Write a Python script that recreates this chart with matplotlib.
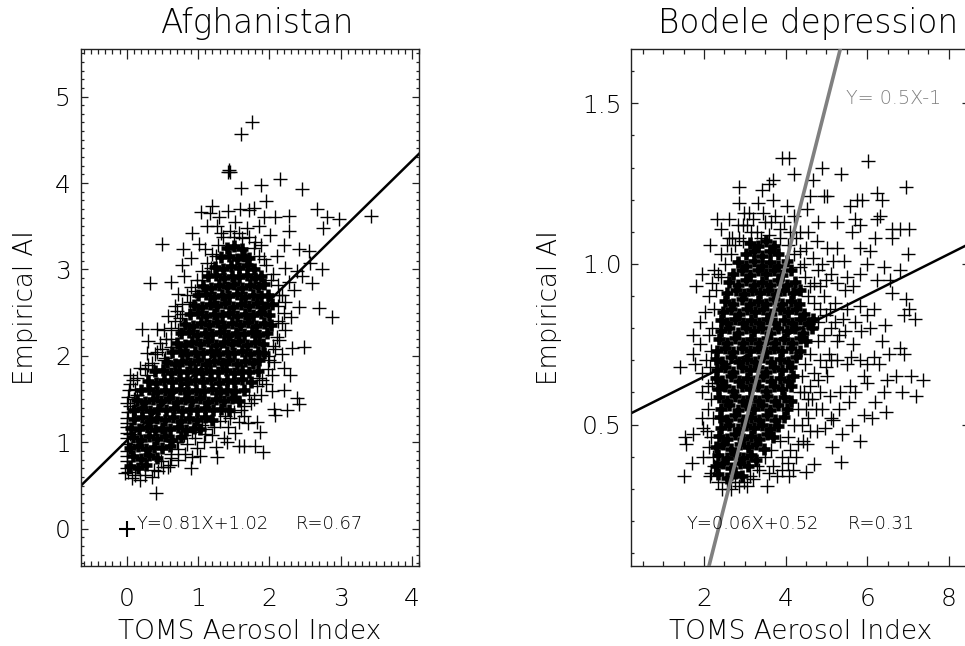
import matplotlib
matplotlib.use("Agg")
import matplotlib.pyplot as plt
from matplotlib.ticker import MultipleLocator, FixedLocator

FONT = dict(family="DejaVu Sans", weight=200)

# ---------- values ----------
afg_title = "Afghanistan"
bod_title = "Bodele depression"
x_label = "TOMS Aerosol Index"
y_label = "Empirical AI"

afg_fit = (0.81, 1.02)
bod_fit = (0.0636, 0.522)
bod_ref = (0.5, -1.0)
afg_text = ("Y=0.81X+1.02", "R=0.67")
bod_text = ("Y=0.06X+0.52", "R=0.31")
ref_text = "Y= 0.5X-1"

afg_origin = [(0.0, 0.0)]

afg_outer = [
 (1.76,4.70),(1.60,4.57),(1.42,4.13),(1.45,4.13),(1.44,4.15),(1.60,3.94),(1.88,3.98),(2.15,4.05),(2.45,3.93),
 (1.95,3.79),(2.67,3.70),(2.81,3.61),(2.98,3.58),(2.75,3.48),(3.43,3.62),(1.20,3.73),(1.04,3.66),(1.17,3.65),
 (1.29,3.61),(1.26,3.50),(1.59,3.70),(1.71,3.69),(1.78,3.71),(1.92,3.61),(2.08,3.61),(2.27,3.62),(2.28,3.45),
 (2.20,3.28),(2.01,3.40),(1.85,3.50),(0.50,3.30),(0.33,2.84),(0.79,3.24),(1.01,3.30),(1.10,3.24),(0.90,3.13),
 (0.77,3.05),(2.41,3.24),(2.55,3.21),(2.10,3.15),(2.57,3.07),(2.73,3.01),(2.45,2.92),(2.60,2.84),(2.34,2.76),
 (2.41,2.57),(2.70,2.55),(2.88,2.45),(2.31,2.09),(2.48,2.10),(2.06,1.93),(2.20,1.86),(2.29,1.78),(2.03,1.59),
 (2.20,1.60),(2.38,1.51),(2.41,1.44),(2.06,1.39),(2.25,1.37),(2.08,1.32),(1.82,1.24),(1.87,1.12),(1.65,1.31),
 (1.52,1.11),(1.57,0.96),(1.64,0.96),(1.80,0.96),(1.91,0.89),(1.40,1.01),(1.25,0.95),(1.26,0.83),(0.91,0.83),
 (0.90,0.70),(1.03,0.84),(0.58,0.72),(0.41,0.42),(0.21,2.31),(0.42,2.31),(0.30,2.17),(0.28,2.03),(0.47,2.15),
 (0.04,1.78),(0.09,1.72),(0.02,1.53),(0.00,1.28),(0.00,1.11),(0.00,0.84),(-0.02,0.64),(0.07,0.59),(0.19,0.57),
 (0.35,0.60),(0.51,0.72),(0.61,0.74),
 (0.62,2.85),(0.72,2.72),(0.80,2.93),(0.68,2.58),(0.58,2.46),(0.75,2.44),(0.52,2.30),(0.62,2.20),(0.40,2.02),
 (0.53,1.98),(0.30,1.90),(0.18,1.86),(0.12,1.62),(0.05,1.42),(0.92,3.42),(1.12,3.50),(1.32,3.42),(1.52,3.55),
 (1.68,3.48),(1.42,3.68),(1.88,3.28),(2.22,3.02),(2.28,2.85),(2.38,2.98),(2.22,2.62),(2.30,2.45),(2.22,2.30),
 (2.14,2.18),(2.18,2.02),(2.04,1.78),(1.95,1.68),(1.88,1.55),(1.74,1.45),(1.70,1.22),(1.58,1.24),(1.42,1.18),
 (1.20,1.08),(1.08,1.00),(0.98,0.94),(0.82,0.86),(0.72,0.80),(0.62,0.86),(1.36,1.05),(1.10,1.15),
]

afg_fringe = [
 (0.00,0.70),(0.01,0.78),(0.00,0.90),(0.02,0.98),(0.00,1.05),(0.01,1.18),(0.00,1.22),(0.02,1.35),(0.00,1.45),
 (0.03,1.60),(0.05,1.68),(0.10,1.50),(0.15,1.75),(0.25,1.85),(0.35,1.92),(0.42,2.05),(0.50,2.08),(0.55,2.20),
 (0.62,2.32),(0.68,2.40),(0.70,2.52),(0.78,2.60),(0.85,2.70),(0.90,2.80),(0.98,2.88),(1.05,2.98),(1.12,3.08),
 (1.20,3.18),(1.28,3.28),(1.35,3.38),(1.45,3.45),(1.58,3.42),(1.72,3.38),(1.78,3.25),(1.85,3.15),(1.95,3.05),
 (2.05,2.95),(2.12,2.82),(2.18,2.70),(2.20,2.50),(2.18,2.38),(2.10,2.22),(2.08,2.08),(2.00,1.95),(1.98,1.85),
 (1.90,1.72),(1.82,1.65),(1.72,1.55),(1.65,1.42),(1.50,1.35),(1.38,1.30),(1.22,1.18),(1.10,1.10),(0.95,1.05),
 (0.85,0.98),(0.72,0.92),(0.62,0.82),(0.48,0.78),(0.38,0.68),(0.25,0.62),(0.12,0.62),(0.02,0.66),(0.44,0.67),
 (0.70,1.00),(0.80,1.08),(0.92,1.12),(1.05,1.20),(1.30,1.25),(1.45,1.28),(1.60,1.38),(1.78,1.50),(1.85,1.75),
 (1.98,2.00),(2.05,2.12),(2.12,2.40),(2.12,2.58),(2.14,2.70),(2.02,2.88),(1.92,3.12),(1.80,3.32),(1.62,3.36),
 (1.50,3.38),(1.25,3.15),(1.18,3.02),(1.05,2.88),(0.95,2.75),(0.88,2.62),(0.78,2.48),(0.72,2.30),(0.62,2.10),
 (0.52,1.95),(0.38,1.85),(0.28,1.78),(0.14,1.55),(0.08,1.35),(0.05,1.10),
]

afg_core = [
 (.05,.73),(.16,.70),(.27,.74),
 (.09,.84),(.20,.81),(.31,.85),(.42,.82),
 (.05,.94),(.16,.96),(.27,.92),(.38,.95),(.49,.93),(.60,.96),
 (.09,1.06),(.20,1.03),(.31,1.07),(.42,1.04),(.53,1.07),(.64,1.03),(.76,1.06),
 (.06,1.17),(.17,1.15),(.28,1.18),(.39,1.14),(.50,1.17),(.61,1.15),(.72,1.18),(.83,1.14),(.94,1.17),(1.02,1.15),
 (.10,1.27),(.21,1.29),(.32,1.25),(.43,1.28),(.54,1.26),(.65,1.29),(.76,1.25),(.87,1.28),(.98,1.26),(1.09,1.29),(1.20,1.26),
 (.10,1.38),(.22,1.40),(.33,1.36),(.44,1.39),(.55,1.37),(.66,1.40),(.77,1.36),(.88,1.39),(.99,1.37),(1.10,1.40),(1.21,1.37),(1.32,1.39),(1.44,1.37),
 (.15,1.49),(.26,1.47),(.37,1.50),(.48,1.48),(.59,1.51),(.70,1.47),(.81,1.50),(.92,1.48),(1.03,1.51),(1.14,1.47),(1.25,1.50),(1.36,1.48),(1.47,1.51),(1.57,1.48),
 (.20,1.60),(.31,1.62),(.42,1.58),(.53,1.61),(.64,1.59),(.75,1.62),(.86,1.58),(.97,1.61),(1.08,1.59),(1.19,1.62),(1.30,1.58),(1.41,1.61),(1.52,1.59),(1.64,1.61),
 (.30,1.71),(.41,1.69),(.52,1.72),(.63,1.70),(.74,1.73),(.85,1.69),(.96,1.72),(1.07,1.70),(1.18,1.73),(1.29,1.69),(1.40,1.72),(1.51,1.70),(1.62,1.73),(1.74,1.70),
 (.40,1.82),(.51,1.84),(.62,1.80),(.73,1.83),(.84,1.81),(.95,1.84),(1.06,1.80),(1.17,1.83),(1.28,1.81),(1.39,1.84),(1.50,1.80),(1.61,1.83),(1.72,1.81),(1.84,1.83),
 (.56,1.93),(.67,1.91),(.78,1.94),(.89,1.92),(1.00,1.95),(1.11,1.91),(1.22,1.94),(1.33,1.92),(1.44,1.95),(1.55,1.91),(1.66,1.94),(1.77,1.92),(1.86,1.95),
 (.63,2.04),(.74,2.06),(.85,2.02),(.96,2.05),(1.07,2.03),(1.18,2.06),(1.29,2.02),(1.40,2.05),(1.51,2.03),(1.62,2.06),(1.73,2.02),(1.84,2.05),(1.92,2.03),
 (.70,2.15),(.81,2.13),(.92,2.16),(1.03,2.14),(1.14,2.17),(1.25,2.13),(1.36,2.16),(1.47,2.14),(1.58,2.17),(1.69,2.13),(1.80,2.16),(1.91,2.14),
 (.76,2.26),(.87,2.28),(.98,2.24),(1.09,2.27),(1.20,2.25),(1.31,2.28),(1.42,2.24),(1.53,2.27),(1.64,2.25),(1.75,2.28),(1.86,2.24),(1.97,2.27),
 (.82,2.37),(.93,2.35),(1.04,2.38),(1.15,2.36),(1.26,2.39),(1.37,2.35),(1.48,2.38),(1.59,2.36),(1.70,2.39),(1.81,2.35),(1.92,2.38),(2.02,2.36),
 (.89,2.48),(1.00,2.50),(1.11,2.46),(1.22,2.49),(1.33,2.47),(1.44,2.50),(1.55,2.46),(1.66,2.49),(1.77,2.47),(1.88,2.50),(2.00,2.47),
 (.94,2.59),(1.05,2.57),(1.16,2.60),(1.27,2.58),(1.38,2.61),(1.49,2.57),(1.60,2.60),(1.71,2.58),(1.82,2.61),(1.93,2.57),(2.04,2.60),
 (1.00,2.70),(1.11,2.72),(1.22,2.68),(1.33,2.71),(1.44,2.69),(1.55,2.72),(1.66,2.68),(1.77,2.71),(1.88,2.69),(1.98,2.71),
 (1.07,2.81),(1.18,2.79),(1.29,2.82),(1.40,2.80),(1.51,2.83),(1.62,2.79),(1.73,2.82),(1.84,2.80),(1.92,2.83),
 (1.14,2.92),(1.25,2.94),(1.36,2.90),(1.47,2.93),(1.58,2.91),(1.69,2.94),(1.80,2.90),(1.88,2.93),
 (1.24,3.03),(1.35,3.01),(1.46,3.04),(1.57,3.02),(1.68,3.05),(1.78,3.01),
 (1.32,3.14),(1.43,3.16),(1.54,3.12),(1.65,3.15),(1.71,3.13),
 (1.40,3.25),(1.51,3.27),(1.62,3.24),
]

bod_outer = [
 (6.01,1.32),(4.07,1.33),(3.92,1.33),(4.21,1.28),(4.90,1.30),(5.35,1.28),(2.86,1.24),(3.70,1.26),(3.60,1.25),
 (6.96,1.24),(4.67,1.26),(4.60,1.21),(4.93,1.21),(5.01,1.21),(6.24,1.22),(6.36,1.20),(5.75,1.20),(5.87,1.20),
 (5.58,1.18),(3.41,1.23),(3.33,1.19),(3.70,1.20),(2.86,1.19),(2.97,1.16),(4.03,1.18),(4.52,1.17),(2.31,1.14),
 (2.60,1.14),(2.84,1.12),(2.41,1.11),(6.32,1.15),(6.24,1.14),(5.26,1.13),(5.71,1.14),(5.83,1.12),(5.62,1.10),
 (6.61,1.11),(6.81,1.11),(7.01,1.11),(6.61,1.08),(6.18,1.08),(2.15,1.06),(2.68,1.08),(7.00,1.03),(1.94,0.97),
 (1.80,0.93),(2.11,0.90),(2.19,0.94),(6.40,0.99),(6.79,0.98),(6.56,0.95),(6.24,0.95),(6.61,0.91),(6.96,0.89),
 (7.01,0.86),(6.89,0.84),(7.18,0.83),(6.44,0.81),(6.07,0.80),(6.36,0.76),(6.81,0.74),(6.89,0.72),(6.52,0.72),
 (1.41,0.68),(1.74,0.78),(1.90,0.82),(2.02,0.85),(1.74,0.72),(1.90,0.75),(1.78,0.69),(1.94,0.66),(1.94,0.60),
 (1.94,0.52),(1.98,0.49),(1.56,0.44),(1.53,0.46),(1.74,0.47),(1.70,0.38),(1.51,0.34),(1.98,0.40),(2.15,0.34),
 (6.71,0.65),(7.06,0.65),(7.36,0.64),(6.48,0.64),(6.85,0.60),(7.19,0.59),(6.40,0.60),(6.20,0.57),(6.47,0.54),
 (6.11,0.52),(5.91,0.53),(5.62,0.50),(5.81,0.45),(5.13,0.43),(4.52,0.44),(4.76,0.48),(5.35,0.385),(4.70,0.377),
 (4.49,0.354),(4.07,0.34),(3.78,0.34),(3.54,0.31),(5.38,0.47),(4.97,0.49),(5.17,0.515),(6.16,0.71),(5.83,0.70),
 (5.99,0.69),(6.28,0.69),(5.91,0.65),(5.99,0.63),(5.58,0.62),(5.34,0.60),(5.09,0.59),(4.85,0.60),(5.01,0.65),
 (5.26,0.70),(5.50,0.69),(5.66,0.75),(5.46,0.79),(5.99,0.84),(6.16,0.86),(5.83,0.87),(5.50,0.86),(5.66,0.93),
 (5.50,0.96),(5.83,0.97),(5.99,1.00),(6.07,1.04),(5.83,1.05),(5.42,1.01),(5.17,1.01),(5.26,1.05),(5.01,1.05),
 (4.76,1.07),
 (4.80,0.98),(5.00,0.95),(5.25,0.94),(5.45,0.92),(4.95,0.90),(5.20,0.88),(5.40,0.83),(5.70,0.82),(5.85,0.79),
 (5.60,0.71),(5.25,0.76),(5.05,0.72),(4.85,0.70),(4.70,0.66),(4.60,0.62),(4.75,0.55),(4.90,0.55),(5.10,0.52),
 (5.30,0.55),(5.55,0.57),(5.70,0.60),(4.55,0.52),(4.40,0.50),(4.60,0.48),(4.30,0.44),(4.10,0.42),(3.90,0.40),
 (3.70,0.37),(4.05,0.38),(3.35,0.36),(3.20,0.33),(3.05,0.31),(2.85,0.31),(2.65,0.30),(2.45,0.30),(2.25,0.37),
 (2.12,0.43),(2.10,0.55),(2.05,0.70),(2.13,0.78),(2.25,0.98),(2.42,1.03),(2.55,1.06),(2.85,1.08),(3.05,1.12),
 (3.30,1.10),(3.50,1.13),(3.75,1.15),(3.95,1.13),(4.20,1.15),(4.35,1.10),(4.55,1.10),(4.80,1.13),(4.35,1.04),
 (3.10,1.16),(4.45,1.00),(4.60,0.93),(4.80,0.82),(4.55,0.58),(4.45,0.60),
]

bod_fringe = [
 (2.18,0.35),(2.22,0.40),(2.18,0.46),(2.22,0.52),(2.16,0.58),(2.20,0.63),(2.15,0.68),(2.18,0.73),(2.20,0.80),
 (2.25,0.86),(2.28,0.92),(2.35,0.97),(2.42,0.96),(2.52,1.00),(2.65,1.03),(2.75,1.06),(2.95,1.07),(3.15,1.10),
 (3.40,1.08),(3.60,1.09),(3.85,1.08),(4.05,1.06),(4.20,1.03),(4.35,0.99),(4.48,0.96),(4.55,0.90),(4.70,0.88),
 (4.85,0.86),(5.00,0.84),(5.12,0.80),(4.95,0.78),(4.78,0.76),(4.60,0.72),(4.48,0.69),(4.40,0.65),(4.35,0.60),
 (4.30,0.55),(4.20,0.50),(4.05,0.46),(3.85,0.45),(3.65,0.42),(3.50,0.40),(3.30,0.37),(3.12,0.34),(2.98,0.32),
 (2.75,0.32),(2.55,0.32),(2.35,0.32),(2.60,1.08),(2.95,1.12),(3.20,1.14),(3.45,1.16),(3.65,1.13),(3.85,1.11),
 (4.10,1.10),(4.25,1.08),(4.50,1.05),(4.68,1.02),(4.90,1.00),(5.10,0.97),(4.70,0.94),(4.85,0.93),(5.08,0.86),
 (5.22,0.82),(5.30,0.78),(5.12,0.70),(5.00,0.68),(4.80,0.64),(4.65,0.58),(4.50,0.55),(4.42,0.45),(4.25,0.40),
 (4.18,0.36),(3.92,0.36),(3.60,0.35),(2.10,0.62),(2.08,0.48),
]

bod_core = [
 (2.35,.345),(2.55,.335),(2.75,.35),(2.92,.34),
 (2.28,.37),(2.47,.38),(2.67,.365),(2.87,.38),(3.07,.37),
 (2.33,.405),(2.55,.395),(2.75,.41),(2.95,.395),(3.15,.405),(3.28,.39),
 (2.30,.43),(2.47,.44),(2.67,.425),(2.87,.44),(3.07,.43),(3.27,.44),(3.46,.425),
 (2.37,.465),(2.55,.455),(2.75,.47),(2.95,.455),(3.15,.465),(3.35,.455),(3.55,.47),(3.68,.46),
 (2.42,.49),(2.62,.50),(2.82,.485),(3.02,.50),(3.22,.49),(3.42,.50),(3.62,.485),(3.82,.495),
 (2.40,.525),(2.55,.515),(2.75,.53),(2.95,.515),(3.15,.525),(3.35,.515),(3.55,.53),(3.75,.515),(3.95,.525),
 (2.42,.55),(2.62,.56),(2.82,.545),(3.02,.56),(3.22,.55),(3.42,.56),(3.62,.545),(3.82,.56),(4.02,.55),
 (2.37,.585),(2.55,.575),(2.75,.59),(2.95,.575),(3.15,.585),(3.35,.575),(3.55,.59),(3.75,.575),(3.95,.585),(4.12,.575),
 (2.35,.61),(2.52,.62),(2.72,.605),(2.92,.62),(3.12,.61),(3.32,.62),(3.52,.605),(3.72,.62),(3.92,.61),(4.12,.62),
 (2.30,.645),(2.45,.635),(2.65,.65),(2.85,.635),(3.05,.645),(3.25,.635),(3.45,.65),(3.65,.635),(3.85,.645),(4.05,.635),(4.18,.65),
 (2.32,.67),(2.52,.68),(2.72,.665),(2.92,.68),(3.12,.67),(3.32,.68),(3.52,.665),(3.72,.68),(3.92,.67),(4.12,.68),
 (2.30,.705),(2.45,.695),(2.65,.71),(2.85,.695),(3.05,.705),(3.25,.695),(3.45,.71),(3.65,.695),(3.85,.705),(4.05,.695),(4.25,.71),
 (2.32,.73),(2.52,.74),(2.72,.725),(2.92,.74),(3.12,.73),(3.32,.74),(3.52,.725),(3.72,.74),(3.92,.73),(4.12,.74),(4.34,.73),
 (2.37,.765),(2.55,.755),(2.75,.77),(2.95,.755),(3.15,.765),(3.35,.755),(3.55,.77),(3.75,.755),(3.95,.765),(4.15,.755),(4.35,.77),(4.50,.76),
 (2.42,.79),(2.62,.80),(2.82,.785),(3.02,.80),(3.22,.79),(3.42,.80),(3.62,.785),(3.82,.80),(4.02,.79),(4.22,.80),(4.42,.785),(4.65,.80),
 (2.42,.825),(2.55,.815),(2.75,.83),(2.95,.815),(3.15,.825),(3.35,.815),(3.55,.83),(3.75,.815),(3.95,.825),(4.15,.815),(4.35,.83),(4.55,.815),(4.68,.83),
 (2.47,.85),(2.65,.86),(2.85,.845),(3.05,.86),(3.25,.85),(3.45,.86),(3.65,.845),(3.85,.86),(4.05,.85),(4.25,.86),(4.45,.845),
 (2.52,.885),(2.72,.875),(2.92,.89),(3.12,.875),(3.32,.885),(3.52,.875),(3.72,.89),(3.92,.875),(4.12,.885),(4.32,.875),
 (2.57,.91),(2.77,.92),(2.97,.905),(3.17,.92),(3.37,.91),(3.57,.92),(3.77,.905),(3.97,.92),(4.17,.91),(4.35,.92),
 (2.62,.945),(2.82,.935),(3.02,.95),(3.22,.935),(3.42,.945),(3.62,.935),(3.82,.95),(4.02,.935),(4.22,.945),
 (2.72,.97),(2.92,.98),(3.12,.965),(3.32,.98),(3.52,.97),(3.72,.98),(3.92,.965),(4.12,.98),
 (2.82,1.005),(3.02,.995),(3.22,1.01),(3.42,.995),(3.62,1.005),(3.82,.995),(4.02,1.01),
 (3.02,1.03),(3.22,1.04),(3.42,1.025),(3.62,1.04),(3.82,1.03),
 (3.12,1.065),(3.32,1.055),(3.52,1.07),(3.72,1.055),
]

# ---------- drawing ----------
W, H = 965, 646
fig = plt.figure(figsize=(W / 100, H / 100), dpi=100)
SPINE = "#222222"


def panel(left_px, width_px, xlim, ylim, xmaj, xmin, ymaj, ymin, ymaj_fmt):
    ax = fig.add_axes([left_px / W, (H - 566) / H, width_px / W, 517 / H])
    ax.set_xlim(*xlim)
    ax.set_ylim(*ylim)
    ax.xaxis.set_major_locator(FixedLocator(xmaj))
    ax.xaxis.set_minor_locator(MultipleLocator(xmin))
    ax.yaxis.set_major_locator(FixedLocator(ymaj))
    ax.yaxis.set_minor_locator(MultipleLocator(ymin))
    ax.set_yticklabels(ymaj_fmt)
    ax.tick_params(axis="x", which="major", direction="in", top=True, bottom=True, length=7.2, width=0.9, pad=15, color=SPINE)
    ax.tick_params(axis="x", which="minor", direction="in", top=True, bottom=True, length=3.6, width=0.9, color=SPINE)
    ax.tick_params(axis="y", which="major", direction="in", left=True, right=True, length=4.7, width=0.9, pad=7, color=SPINE)
    ax.tick_params(axis="y", which="minor", direction="in", left=True, right=True, length=2.4, width=0.9, color=SPINE)
    for lab in ax.get_xticklabels() + ax.get_yticklabels():
        lab.set_fontsize(18)
        lab.set_fontfamily(FONT["family"])
        lab.set_fontweight(FONT["weight"])
    for s in ax.spines.values():
        s.set_linewidth(1.0)
        s.set_color(SPINE)
    return ax


def scatter(ax, pts, ms, mew):
    ax.plot([p[0] for p in pts], [p[1] for p in pts], ls="none", marker="+", ms=ms, mew=mew, color="black", zorder=3)


def line(ax, fit, color, lw, z):
    xs = list(ax.get_xlim())
    ax.plot(xs, [fit[0] * v + fit[1] for v in xs], color=color, lw=lw, zorder=z, scalex=False, scaley=False)


def labels(ax, ylabel_x, title, title_px):
    ax.set_xlabel(x_label, fontsize=19, va="baseline", **FONT)
    ax.xaxis.set_label_coords(0.5, -0.1412)
    ax.set_ylabel(y_label, fontsize=18.7, **FONT)
    ax.yaxis.set_label_coords(ylabel_x, 0.5)
    fig.text(title_px / W, (H - 33) / H, title, fontsize=23.5, ha="center", va="baseline", **FONT)


ax1 = panel(80.5, 338.8, (-0.648, 4.10), (-0.43, 5.55), [0, 1, 2, 3, 4], 0.1, [0, 1, 2, 3, 4, 5], 0.1,
            ["0", "1", "2", "3", "4", "5"])
line(ax1, afg_fit, "black", 1.8, 2)
scatter(ax1, afg_core, 9, 3.3)
scatter(ax1, afg_fringe, 10, 1.0)
scatter(ax1, afg_outer, 10, 1.0)
scatter(ax1, afg_origin, 11, 1.5)
labels(ax1, -0.124, afg_title, 257)
ax1.text(0.145, 0.06, afg_text[0], fontsize=12.9, va="center", **FONT)
ax1.text(2.37, 0.06, afg_text[1], fontsize=12.9, va="center", **FONT)

ax2 = panel(631.3, 338, (0.216, 8.5), (0.06, 1.669), [2, 4, 6, 8], 0.5, [0.5, 1.0, 1.5], 0.1,
            ["0.5", "1.0", "1.5"])
line(ax2, bod_fit, "black", 1.8, 2)
scatter(ax2, bod_core, 9, 3.3)
scatter(ax2, bod_fringe, 10, 1.0)
scatter(ax2, bod_outer, 10, 1.0)
line(ax2, bod_ref, "#808080", 2.6, 4)
labels(ax2, -0.205, bod_title, 808)
ax2.text(1.58, 0.191, bod_text[0], fontsize=12.9, va="center", zorder=5, **FONT)
ax2.text(5.51, 0.191, bod_text[1], fontsize=12.9, va="center", zorder=5, **FONT)
ax2.text(5.48, 1.516, ref_text, fontsize=13.8, va="center", color="#808080", **FONT)

fig.savefig("out.png", dpi=100)
